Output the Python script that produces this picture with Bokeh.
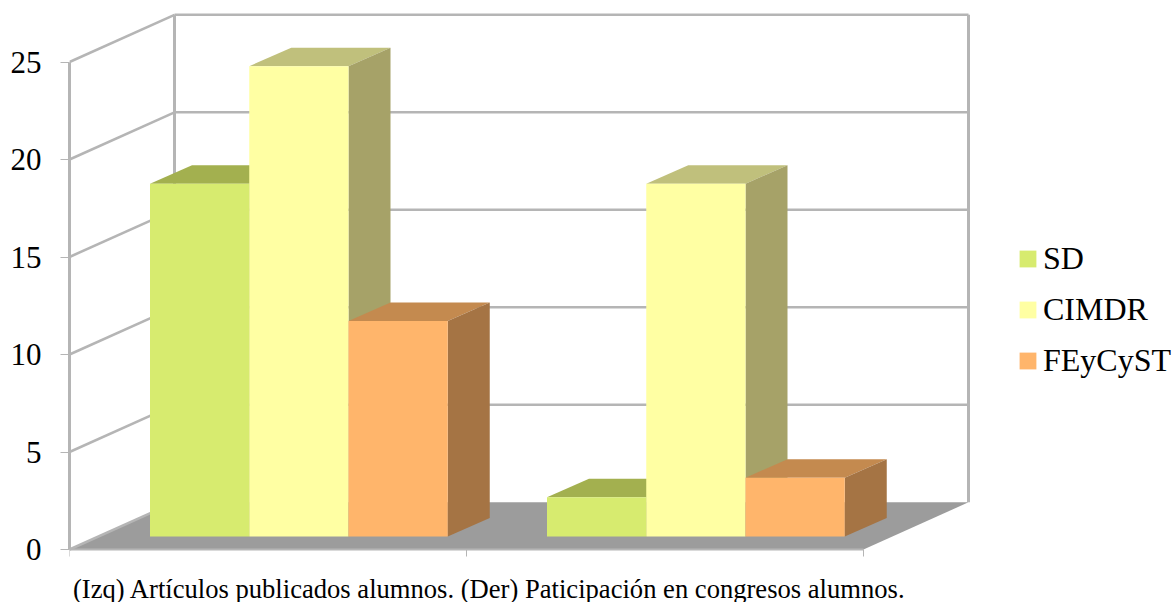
from bokeh.plotting import figure
from bokeh.models import Range1d, LinearAxis, FixedTicker, Legend, LegendItem
from bokeh.embed import file_html
from bokeh.resources import INLINE
from bokeh.core.properties import value

categories = ["Artículos publicados alumnos", "Paticipación en congresos alumnos"]
series_names = ["SD", "CIMDR", "FEyCyST"]
sd = [18, 2]
cimdr = [24, 18]
feycyst = [11, 3]
y_ticks = [0, 5, 10, 15, 20, 25]
caption = "(Izq) Artículos publicados alumnos. (Der) Paticipación en congresos alumnos."

front = ["#D7EB6F", "#FFFFA3", "#FFB56B"]
top = ["#A3B04F", "#C0C07C", "#C48A4F"]
side = ["#8B9A45", "#A6A268", "#A57444"]
GRID = "#B5B5B5"
FLOOR = "#9C9C9C"
FONT = "Liberation Serif"

W, H = 1172, 602
LEFT = 69
PX_X = 397.0      # pixels per category
PX_Y = 19.5       # pixels per value unit
ZERO_PX = 549
WALL_X, WALL_Y = 105 / PX_X, 47.2 / PX_Y
DEPTH_X, DEPTH_Y = 42 / PX_X, 18.5 / PX_Y
BASE_Y = 13 / PX_Y
BAR_W = 0.25
BAR_START = 80.5 / PX_X
BAR_SCALE = 1.005

p = figure(width=W, height=H, output_backend="svg", toolbar_location=None,
           x_range=Range1d(0, (W - LEFT) / PX_X),
           y_range=Range1d(-(H - ZERO_PX) / PX_Y, ZERO_PX / PX_Y),
           x_axis_type=None, y_axis_type=None,
           min_border_left=LEFT, min_border_right=0, min_border_top=0, min_border_bottom=0)
p.outline_line_color = None
p.grid.visible = False
p.background_fill_color = "white"

n = len(categories)
# floor
p.patch([0, n, n + WALL_X, WALL_X], [0, 0, WALL_Y, WALL_Y], fill_color=FLOOR, line_color=None)
# walls
p.segment([0 for _ in y_ticks], y_ticks, [WALL_X for _ in y_ticks], [t + WALL_Y for t in y_ticks],
          line_color=GRID, line_width=2.5)
p.segment([WALL_X for _ in y_ticks[1:]], [t + WALL_Y for t in y_ticks[1:]],
          [n + WALL_X for _ in y_ticks[1:]], [t + WALL_Y for t in y_ticks[1:]],
          line_color=GRID, line_width=2.5)
p.segment([WALL_X, n + WALL_X], [WALL_Y, WALL_Y], [WALL_X, n + WALL_X],
          [y_ticks[-1] + WALL_Y, y_ticks[-1] + WALL_Y], line_color=GRID, line_width=3)

# bars
items = []
for s, (name, vals) in enumerate(zip(series_names, [sd, cimdr, feycyst])):
    l = [c + BAR_START + s * BAR_W for c in range(n)]
    r = [a + BAR_W for a in l]
    t = [BASE_Y + v * BAR_SCALE for v in vals]
    b = [BASE_Y for _ in vals]
    p.patches([[a, d, d + DEPTH_X, a + DEPTH_X] for a, d in zip(l, r)],
              [[y, y, y + DEPTH_Y, y + DEPTH_Y] for y in t],
              fill_color=top[s], line_color=None)
    p.patches([[d, d, d + DEPTH_X, d + DEPTH_X] for d in r],
              [[y0, y1, y1 + DEPTH_Y, y0 + DEPTH_Y] for y0, y1 in zip(b, t)],
              fill_color=side[s], line_color=None)
    q = p.quad(left=l, right=r, bottom=b, top=t, fill_color=front[s], line_color=None)
    items.append(LegendItem(label=name, renderers=[q]))

# axes
yaxis = LinearAxis(ticker=FixedTicker(ticks=y_ticks), bounds=(y_ticks[0], y_ticks[-1]))
yaxis.axis_line_color = GRID
yaxis.axis_line_width = 3
yaxis.major_tick_line_color = GRID
yaxis.major_tick_line_width = 1
yaxis.major_tick_out = 9
yaxis.major_tick_in = 0
yaxis.minor_tick_line_color = None
yaxis.major_label_standoff = 19
yaxis.major_label_text_font = FONT
yaxis.major_label_text_font_size = "31px"
yaxis.major_label_text_color = "black"
p.add_layout(yaxis, "left")

xaxis = LinearAxis(ticker=FixedTicker(ticks=list(range(n + 1))), bounds=(0, n), fixed_location=0)
xaxis.axis_line_color = GRID
xaxis.axis_line_width = 2
xaxis.major_tick_line_color = GRID
xaxis.major_tick_line_width = 1
xaxis.major_tick_out = 7
xaxis.major_tick_in = 0
xaxis.minor_tick_line_color = None
xaxis.major_label_overrides = {i: "" for i in range(n + 1)}
p.add_layout(xaxis, "below")

# caption
p.text([3.5 / PX_X], [-39 / PX_Y], text=[caption], text_font=value(FONT), text_font_size="26.6px",
       text_color="black", text_baseline="alphabetic", text_align="left")

legend = Legend(items=items, location=(948, 223), orientation="vertical",
                background_fill_alpha=0, border_line_color=None,
                glyph_width=21, glyph_height=21, label_standoff=5, spacing=14, padding=0, margin=0,
                label_text_font=FONT, label_text_font_size="32px", label_text_color="black")
p.add_layout(legend, "center")

open("out.html", "w").write(file_html(p, INLINE))
